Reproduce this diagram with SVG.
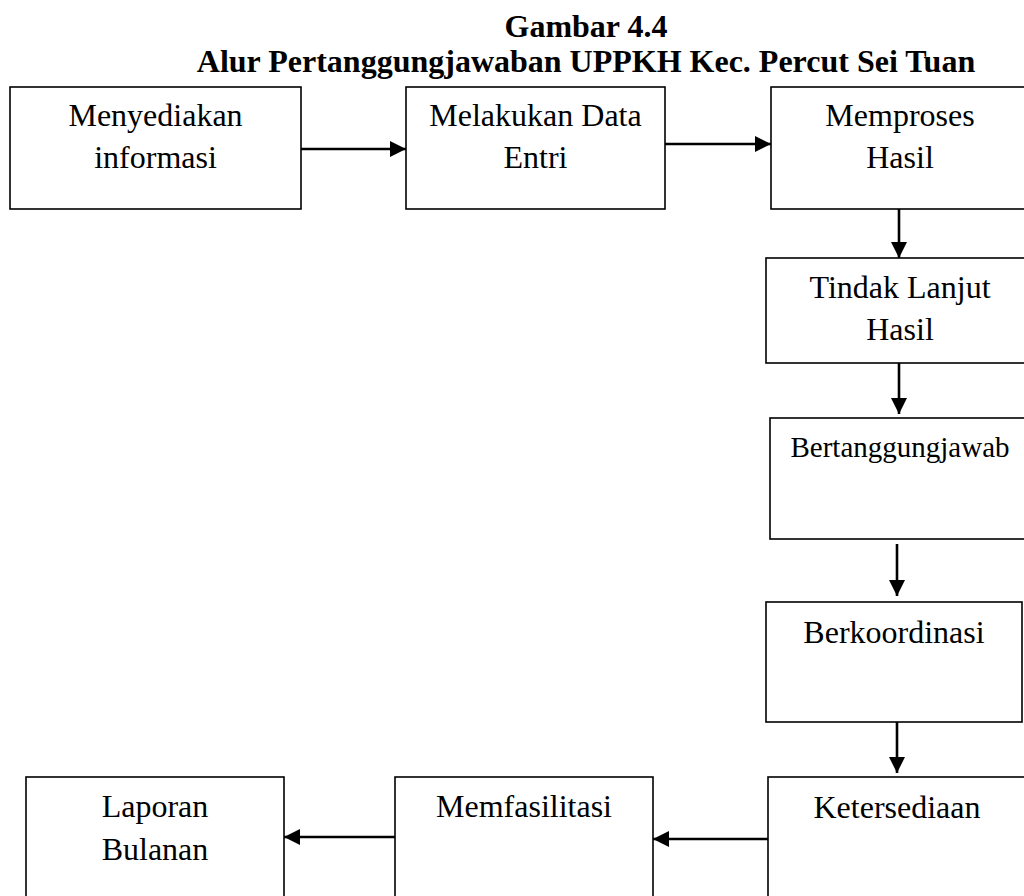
<svg xmlns="http://www.w3.org/2000/svg" width="1024" height="896" viewBox="0 0 1024 896">
<style>
.box{fill:#fff;stroke:#000;stroke-width:1.6}
.t{font-family:"Liberation Serif","Times New Roman",serif;font-size:32px;fill:#000;text-anchor:middle}
.title{font-family:"Liberation Serif","Times New Roman",serif;font-size:32px;font-weight:bold;fill:#000;text-anchor:middle}
.c{stroke:#000;stroke-width:2.6;fill:none;marker-end:url(#ah)}
</style>
<defs>
<marker id="ah" markerUnits="userSpaceOnUse" markerWidth="16" markerHeight="16" refX="16" refY="8" orient="auto">
<path d="M0,0 L16,8 L0,16 Z" fill="#000"/>
</marker>
</defs>
<rect width="1024" height="896" fill="#fff"/>
<g id="title">
<text class="title" x="586" y="37">Gambar 4.4</text>
<text class="title" x="586" y="72">Alur Pertanggungjawaban UPPKH Kec. Percut Sei Tuan</text>
</g>
<g id="n1"><rect class="box" x="10" y="87" width="291" height="122"/><text class="t" x="155.5" y="126">Menyediakan</text><text class="t" x="155.5" y="168">informasi</text></g>
<g id="n2"><rect class="box" x="406" y="87" width="259" height="122"/><text class="t" x="535.5" y="126">Melakukan Data</text><text class="t" x="535.5" y="168">Entri</text></g>
<g id="n3"><rect class="box" x="771" y="87" width="262" height="122"/><text class="t" x="900" y="126">Memproses</text><text class="t" x="900" y="168">Hasil</text></g>
<g id="n4"><rect class="box" x="766" y="258" width="267" height="105"/><text class="t" x="900" y="298">Tindak Lanjut</text><text class="t" x="900" y="340">Hasil</text></g>
<g id="n5"><rect class="box" x="770" y="418" width="263" height="121"/><text class="t" x="900" y="457" style="font-size:29px">Bertanggungjawab</text></g>
<g id="n6"><rect class="box" x="766" y="602" width="256" height="120"/><text class="t" x="894" y="643">Berkoordinasi</text></g>
<g id="n7"><rect class="box" x="768" y="777" width="265" height="140"/><text class="t" x="897" y="818">Ketersediaan</text></g>
<g id="n8"><rect class="box" x="395" y="777" width="258" height="140"/><text class="t" x="524" y="817">Memfasilitasi</text></g>
<g id="n9"><rect class="box" x="26" y="777" width="258" height="140"/><text class="t" x="155" y="817">Laporan</text><text class="t" x="155" y="860">Bulanan</text></g>
<g id="connectors">
<line class="c" x1="301" y1="149" x2="406" y2="149"/>
<line class="c" x1="665" y1="144" x2="771" y2="144"/>
<line class="c" x1="899" y1="209" x2="899" y2="258"/>
<line class="c" x1="899" y1="363" x2="899" y2="414"/>
<line class="c" x1="897" y1="544" x2="897" y2="596"/>
<line class="c" x1="897" y1="722" x2="897" y2="773"/>
<line class="c" x1="768" y1="839" x2="653" y2="839"/>
<line class="c" x1="395" y1="837" x2="284" y2="837"/>
</g>
</svg>
